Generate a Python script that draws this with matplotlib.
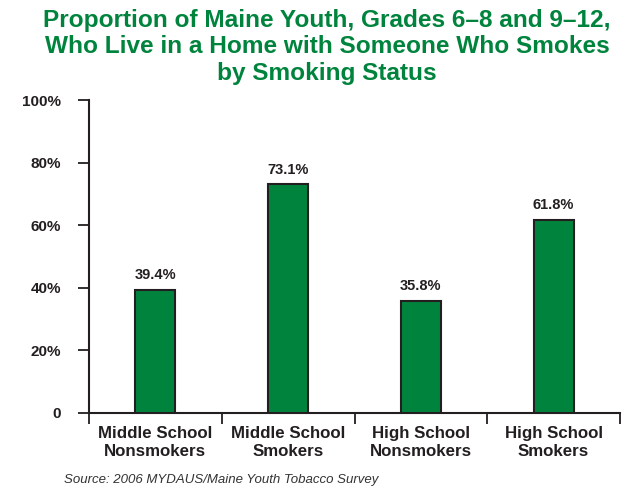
import matplotlib
matplotlib.use("Agg")
import matplotlib.pyplot as plt
import numpy as np

categories = ["Middle School\nNonsmokers", "Middle School\nSmokers", "High School\nNonsmokers", "High School\nSmokers"]
values = [39.4, 73.1, 35.8, 61.8]
value_labels = ["39.4%", "73.1%", "35.8%", "61.8%"]
yticks = [0, 20, 40, 60, 80, 100]
ytick_labels = ["0", "20%", "40%", "60%", "80%", "100%"]

green = "#00843D"
dark = "#231F20"

plt.rcParams['font.family'] = ['Liberation Sans', 'DejaVu Sans']

fig = plt.figure(figsize=(6.26, 4.93), dpi=100)
ax = fig.add_axes([89/626, 1-413/493, (620-89)/626, (413-100)/493])

x = np.arange(len(categories))
ax.bar(x, values, width=0.3, color=green, edgecolor=dark, linewidth=1.5, zorder=3)
for xi, v, lab in zip(x, values, value_labels):
    ax.text(xi, v + 2.4, lab, ha="center", va="bottom", fontsize=10.5, fontweight="bold", color=dark)

ax.set_xlim(-0.5, len(categories) - 0.5)
ax.set_ylim(0, 100)
ax.set_yticks(yticks)
ax.set_yticklabels(ytick_labels, fontsize=11, fontweight="bold", color=dark)
ax.tick_params(axis="y", direction="out", length=8, width=1.3, color=dark, pad=12)

ax.set_xticks(np.arange(-0.5, len(categories), 1.0))
ax.set_xticklabels([])
ax.tick_params(axis="x", direction="out", length=8, width=1.3, color=dark)
for xi, c in zip(x, categories):
    ax.text(xi, -4.2, c, ha="center", va="top", fontsize=12.2, fontweight="bold", color=dark,
            linespacing=1.22, transform=ax.transData)

for s in ["top", "right"]:
    ax.spines[s].set_visible(False)
for s in ["left", "bottom"]:
    ax.spines[s].set_linewidth(1.5)
    ax.spines[s].set_color(dark)

fig.text(327/626, 0.982, "Proportion of Maine Youth, Grades 6\u20138 and 9\u201312,\nWho Live in a Home with Someone Who Smokes\nby Smoking Status",
         ha="center", va="top", fontsize=17.6, fontweight="bold", color=green,
         family=["Liberation Sans Narrow", "Liberation Sans"], linespacing=1.2)

fig.text(64/626, 1-480/493, "Source: 2006 MYDAUS/Maine Youth Tobacco Survey", ha="left", va="center",
         fontsize=9.5, style="italic", color="#333333")

fig.savefig("out.png", dpi=100)
